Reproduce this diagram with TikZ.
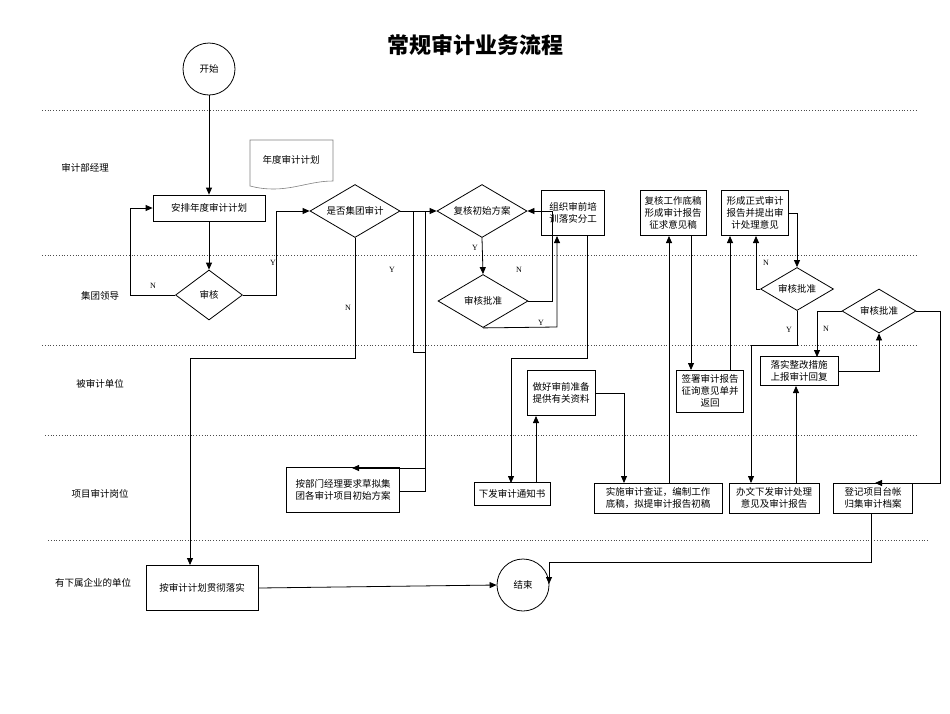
\documentclass[tikz,border=0pt]{standalone}
\usepackage{fontspec}
\setmainfont{Liberation Serif}
\newfontfamily\cjk{Noto Sans CJK SC}
\usetikzlibrary{shapes.geometric,arrows.meta}
\begin{document}
\begin{tikzpicture}[x=1pt,y=-1pt,
  every node/.style={font=\cjk\fontsize{9.5}{12}\selectfont},
  box/.style={draw,line width=0.8pt,inner sep=1pt,align=center},
  dia/.style={draw,line width=0.8pt,diamond,aspect=1.7,inner sep=0pt},
  circ/.style={draw,line width=0.8pt,circle,minimum size=52pt},
  lane/.style={draw=black!70,dotted,line width=0.8pt},
  ln/.style={line width=0.8pt},
  ar/.style={ln,-{Triangle[length=7pt,width=6pt]}},
  yn/.style={font=\fontsize{8}{9}\selectfont}]
\useasboundingbox (0,0) rectangle (950,713);
\node[font=\cjk\bfseries\fontsize{22}{26}\selectfont] (title) at (475,45) {常规审计业务流程};
% lanes
\draw[lane] (42,110)--(918,110);
\draw[lane] (42,255)--(918,255);
\draw[lane] (42,345)--(918,345);
\draw[lane] (45,435)--(918,435);
\draw[lane] (48,540)--(928,540);
\node (l1) at (85,168) {审计部经理};
\node (l2) at (100,296) {集团领导};
\node (l3) at (100,384) {被审计单位};
\node (l4) at (100,494) {项目审计岗位};
\node (l5) at (93,583) {有下属企业的单位};
% document shape
\draw[draw=black!50,line width=0.6pt] (250,140)--(333,140)--(333,181) .. controls (305,181) and (285,195) .. (250,186)--cycle;
\node (doc) at (291,160) {年度审计计划};
% nodes
\node[circ] (start) at (209,69) {开始};
\node[box,minimum width=112pt,minimum height=26pt] (b1) at (209,208) {安排年度审计计划};
\node[dia,minimum width=67pt,minimum height=50pt,aspect=1.34] (d1) at (209,295) {审核};
\node[dia,minimum width=90pt,minimum height=53pt] (d2) at (355,211) {是否集团审计};
\node[dia,minimum width=90pt,minimum height=53pt] (d3) at (482,211) {复核初始方案};
\node[box,minimum width=63pt,minimum height=45pt] (b2) at (573,213) {组织审前培\\训落实分工};
\node[dia,minimum width=90pt,minimum height=53pt] (d4) at (483,301) {审核批准};
\node[box,minimum width=66pt,minimum height=45pt] (b3) at (673,213) {复核工作底稿\\形成审计报告\\征求意见稿};
\node[box,minimum width=67pt,minimum height=45pt] (b4) at (755,213) {形成正式审计\\报告并提出审\\计处理意见};
\node[dia,minimum width=73pt,minimum height=43pt] (d5) at (797,289) {审核批准};
\node[dia,minimum width=74pt,minimum height=44pt] (d6) at (879,311) {审核批准};
\node[box,minimum width=78pt,minimum height=29pt] (b5) at (799,371) {落实整改措施\\上报审计回复};
\node[box,minimum width=67pt,minimum height=42pt] (b6) at (710,391) {签署审计报告\\征询意见单并\\返回};
\node[box,minimum width=68pt,minimum height=45pt] (b7) at (561,393) {做好审前准备\\提供有关资料};
\node[box,minimum width=113pt,minimum height=45pt] (b8) at (343,490) {按部门经理要求草拟集\\团各审计项目初始方案};
\node[box,minimum width=76pt,minimum height=23pt] (b9) at (512,494) {下发审计通知书};
\node[box,minimum width=128pt,minimum height=30pt] (b10) at (658,498) {实施审计查证，编制工作\\底稿，拟提审计报告初稿};
\node[box,minimum width=90pt,minimum height=30pt] (b11) at (774,498) {办文下发审计处理\\意见及审计报告};
\node[box,minimum width=79pt,minimum height=30pt] (b12) at (873,498) {登记项目台帐\\归集审计档案};
\node[box,minimum width=112pt,minimum height=45pt] (b13) at (202,588) {按审计计划贯彻落实};
\node[circ] (end) at (523,585) {结束};
% coordinates for free ends
\coordinate (p1) at (352,468);
% connectors
\draw[ar] (start)--(b1);
\draw[ar] (b1)--(d1);
\draw[ar] (d1.west)--(130,295)--(130,208)--(b1.west);
\node[yn] (n1) at (153,286) {N};
\draw[ar] (d1.east)--(276,295)--(276,211)--(d2.west);
\node[yn] (y1) at (273,263) {Y};
\draw[ar] (d2.south)--(355,358)--(190,358)--(190,565);
\node[yn] (n2) at (348,308) {N};
\draw[ar] (d2.east)--(d3.west);
\draw[ln] (400,211)--(413,211)--(413,352)--(425,352)--(425,468);
\draw[ar] (425,468)--(p1);
\draw[ln] (b8.east|-0,491)--(425,491)--(425,211);
\node[yn] (y2) at (392,270) {Y};
\draw[ar] (d3.south)--(d4.north);
\node[yn] (y3) at (475,248) {Y};
\draw[ar] (d4.east)--(552,301)--(552,211)--(d3.east);
\node[yn] (n3) at (519,270) {N};
\draw[ar] (d4.south)--(557,327)--(557,236);
\node[yn] (y4) at (541,323) {Y};
\draw[ar] (587,236)--(587,358)--(511,358)--(511,483);
\draw[ar] (536,483)--(536,416);
\draw[ar] (b7.east)--(624,393)--(624,483);
\draw[ar] (669,483)--(669,236);
\draw[ar] (691,236)--(691,370);
\draw[ar] (730,370)--(730,236);
\draw[ar] (d5.west)--(756,289)--(756,236);
\node[yn] (n4) at (766,263) {N};
\draw[ar] (b4.east)--(797,213)--(d5.north);
\draw[ar] (d5.south)--(797,345)--(751,345)--(751,483);
\node[yn] (y5) at (789,330) {Y};
\draw[ar] (796,483)--(796,386);
\draw[ar] (b5.east)--(879,371)--(d6.south);
\draw[ar] (d6.west)--(817,311)--(817,357);
\node[yn] (n5) at (826,329) {N};
\draw[ar] (d6.east)--(940,311)--(940,483)--(875,483);
\draw[ar] (871,513)--(871,562)--(549,562)--(549,584);
\draw[ar] (b13.east)--(end.west);
\end{tikzpicture}
\end{document}
